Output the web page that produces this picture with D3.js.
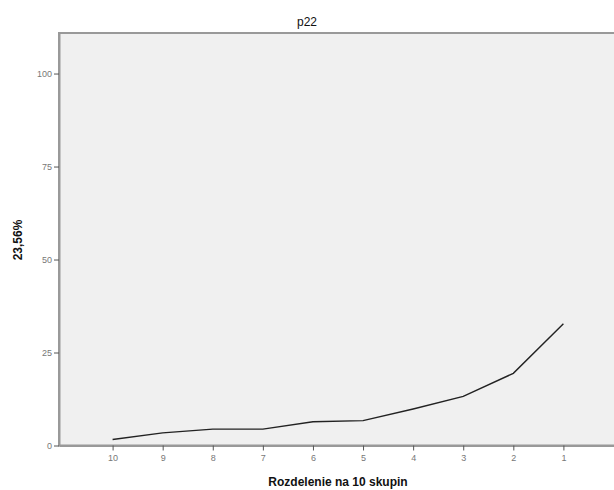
<!DOCTYPE html>
<html lang="en">

<head>
  <meta charset="utf-8">
  <title> p22 </title>
  <script src="https://d3js.org/d3.v7.min.js"></script>
  <style>
    body {
      margin: 0;
      font-family: "Liberation Sans", Arial, sans-serif;
      background: #fff;
    }

    .tick text {
      fill: #777;
      font-size: 9px;
    }
  </style>
</head>

<body>
  <script>
    // groups, as shown left to right
    var groups = ["10", "9", "8", "7", "6", "5", "4", "3", "2", "1"];
    // values
    var values = [1.6, 3.4, 4.4, 4.4, 6.4, 6.7, 9.8, 13.2, 19.4, 32.7];
    var yTicks = [0, 25, 50, 75, 100];

    var width = 614,
      height = 490;
    // plot frame (window.top is taken, so use other names)
    var plotLeft = 59,
      plotRight = 617,
      plotTop = 33,
      plotBottom = 445.5;

    var svg = d3.select("body")
      .append("svg")
      .attr("width", width)
      .attr("height", height);

    var x = d3.scalePoint()
      .domain(groups)
      .range([plotLeft, plotRight])
      .padding(1.07);

    var y = d3.scaleLinear()
      .domain([0, 110.9])
      .range([plotBottom, plotTop]);

    // plot background
    svg.append("rect")
      .attr("x", plotLeft)
      .attr("y", plotTop)
      .attr("width", plotRight - plotLeft)
      .attr("height", plotBottom - plotTop)
      .style("fill", "#f0f0f0")
      .style("stroke", "#999")
      .style("stroke-width", 2);

    // axes
    var xAxis = svg.append("g")
      .attr("transform", "translate(0," + plotBottom + ")")
      .call(d3.axisBottom(x).tickSize(5).tickSizeOuter(0).tickPadding(4));

    var yAxis = svg.append("g")
      .attr("transform", "translate(" + plotLeft + ",0)")
      .call(d3.axisLeft(y).tickValues(yTicks).tickSize(5).tickSizeOuter(0).tickPadding(2));

    [xAxis, yAxis].forEach(function(g) {
      g.select(".domain").style("stroke", "#999").style("stroke-width", 2);
      g.selectAll(".tick line").style("stroke", "#555");
    });

    // line
    var line = d3.line()
      .x(function(d, i) {
        return x(groups[i]);
      })
      .y(function(d) {
        return y(d);
      });

    svg.append("path")
      .datum(values)
      .attr("d", line)
      .style("fill", "none")
      .style("stroke", "#222")
      .style("stroke-width", 1.4);

    // titles
    svg.append("text")
      .attr("x", 307)
      .attr("y", 26)
      .attr("text-anchor", "middle")
      .style("font-size", "12px")
      .style("fill", "#111")
      .text("p22");

    svg.append("text")
      .attr("x", (plotLeft + plotRight) / 2)
      .attr("y", 486)
      .attr("text-anchor", "middle")
      .style("font-size", "12px")
      .style("font-weight", "bold")
      .style("fill", "#111")
      .text("Rozdelenie na 10 skupin");

    svg.append("text")
      .attr("transform", "translate(22,240) rotate(-90)")
      .attr("text-anchor", "middle")
      .style("font-size", "12px")
      .style("font-weight", "bold")
      .style("fill", "#111")
      .text("23,56%");
  </script>
</body>

</html>
